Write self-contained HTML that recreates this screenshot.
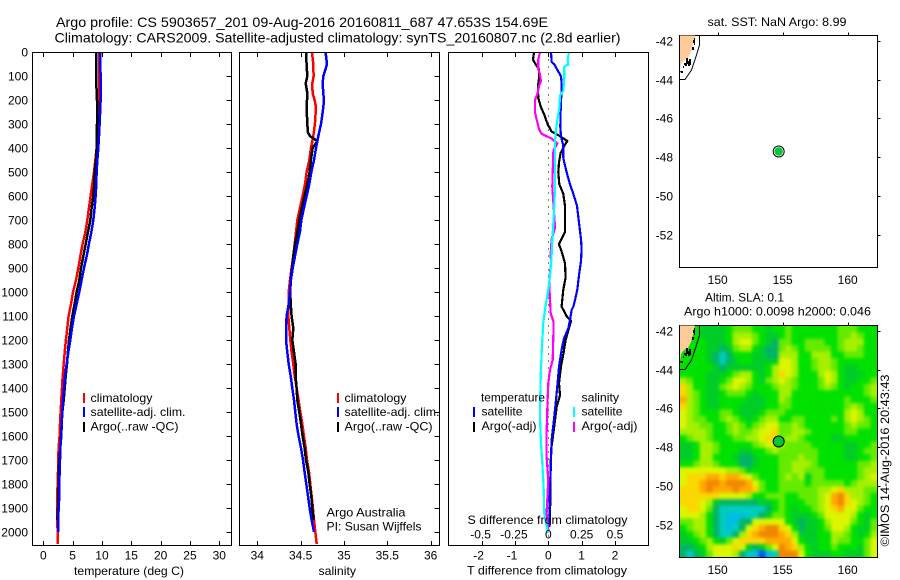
<!DOCTYPE html>
<html lang="en">
<head>
<meta charset="utf-8">
<title>Argo profile 5903657</title>
<style>
html,body{margin:0;padding:0;background:#fff;}
svg{display:block;}
text{font-family:"Liberation Sans",sans-serif;font-size:12px;fill:#000;}
.t14{font-size:14px;}
</style>
</head>
<body>
<svg id="chart" xmlns="http://www.w3.org/2000/svg" width="900" height="580" viewBox="0 0 900 580">
<defs>
<filter id="smoothCells" x="0" y="0" width="1" height="1" color-interpolation-filters="sRGB">
<feGaussianBlur stdDeviation="1.5"/>
<feComponentTransfer><feFuncA type="table" tableValues="1 1"/></feComponentTransfer>
</filter>
</defs>
<rect x="0" y="0" width="900" height="580" fill="#fff"/>
<text class="t14" x="56" y="27" textLength="492" lengthAdjust="spacingAndGlyphs">Argo profile: CS 5903657_201 09-Aug-2016 20160811_687 47.653S 154.69E</text>
<text class="t14" x="54.5" y="42.5" textLength="566" lengthAdjust="spacingAndGlyphs">Climatology: CARS2009. Satellite-adjusted climatology: synTS_20160807.nc (2.8d earlier)</text>

<g id="heat" filter="url(#smoothCells)"></g>
<g id="marks"></g>

<text x="74" y="575" textLength="110" lengthAdjust="spacingAndGlyphs">temperature (deg C)</text>
<text x="318.5" y="575" textLength="37.5" lengthAdjust="spacingAndGlyphs">salinity</text>
<text x="467" y="574.5" textLength="160" lengthAdjust="spacingAndGlyphs">T difference from climatology</text>
<text x="467.5" y="524" textLength="160" lengthAdjust="spacingAndGlyphs">S difference from climatology</text>

<rect x="83" y="393" width="2" height="10" fill="#ff0000"/>
<rect x="83" y="407" width="2" height="10" fill="#0000ff"/>
<rect x="83" y="422" width="2" height="10" fill="#000"/>
<text x="90.5" y="402" textLength="62" lengthAdjust="spacingAndGlyphs">climatology</text>
<text x="90.5" y="416" textLength="95" lengthAdjust="spacingAndGlyphs">satellite-adj. clim.</text>
<text x="90.5" y="430.5" textLength="88" lengthAdjust="spacingAndGlyphs">Argo(..raw -QC)</text>

<rect x="337" y="393" width="2" height="10" fill="#ff0000"/>
<rect x="337" y="407" width="2" height="10" fill="#0000ff"/>
<rect x="337" y="422" width="2" height="10" fill="#000"/>
<text x="344.5" y="402" textLength="62" lengthAdjust="spacingAndGlyphs">climatology</text>
<text x="344.5" y="416" textLength="95" lengthAdjust="spacingAndGlyphs">satellite-adj. clim.</text>
<text x="344.5" y="430.5" textLength="88" lengthAdjust="spacingAndGlyphs">Argo(..raw -QC)</text>

<text x="326.5" y="516.5" textLength="79" lengthAdjust="spacingAndGlyphs">Argo Australia</text>
<text x="326.5" y="530.5" textLength="95" lengthAdjust="spacingAndGlyphs">PI: Susan Wijffels</text>

<text x="481" y="401.5" textLength="64" lengthAdjust="spacingAndGlyphs">temperature</text>
<text x="581.5" y="401.5" textLength="37.5" lengthAdjust="spacingAndGlyphs">salinity</text>
<rect x="473" y="407" width="2" height="10" fill="#0000ff"/>
<rect x="473" y="422" width="2" height="10" fill="#000"/>
<rect x="573" y="407" width="2" height="10" fill="#00ffff"/>
<rect x="573" y="422" width="2" height="10" fill="#ff00ff"/>
<text x="481.5" y="415.5" textLength="41" lengthAdjust="spacingAndGlyphs">satellite</text>
<text x="481.5" y="430" textLength="55" lengthAdjust="spacingAndGlyphs">Argo(-adj)</text>
<text x="581.5" y="415.5" textLength="41" lengthAdjust="spacingAndGlyphs">satellite</text>
<text x="581.5" y="430" textLength="56" lengthAdjust="spacingAndGlyphs">Argo(-adj)</text>

<text x="707.5" y="26" textLength="139" lengthAdjust="spacingAndGlyphs">sat. SST: NaN Argo: 8.99</text>
<text x="705" y="301.5" textLength="79" lengthAdjust="spacingAndGlyphs">Altim. SLA: 0.1</text>
<text x="684" y="315.5" textLength="187" lengthAdjust="spacingAndGlyphs">Argo h1000: 0.0098 h2000: 0.046</text>
<text x="889" y="546.5" transform="rotate(-90 889 546.5)" textLength="172" lengthAdjust="spacingAndGlyphs">©IMOS 14-Aug-2016 20:43:43</text>
</svg>

<script>
// ---- depth ticks and axis ticks ----
const depthTicks = [0,100,200,300,400,500,600,700,800,900,1000,1100,1200,1300,1400,1500,1600,1700,1800,1900,2000];
const tempTicks = [0,5,10,15,20,25,30];
const salTicks = [34,34.5,35,35.5,36];
const salTickLabels = ['34','34.5','35','35.5','36'];
const tDiffTicks = [-2,-1,0,1,2];
const tDiffTickLabels = ['-2','-1','0','1','2'];
const sDiffTicks = [-0.5,-0.25,0,0.25,0.5];
const sDiffTickLabels = ['-0.5','-0.25','0','0.25','0.5'];
const lonTicks = [150,155,160];
const latTicks = [-42,-44,-46,-48,-50,-52];

// ---- temperature panel ----
const tempDepths = [0,100,200,300,350,400,450,500,550,600,650,700,750,800,850,900,950,1000,1050,1100,1150,1200,1250,1300,1350,1400,1450,1500,1550,1600,1650,1700,1750,1800,1850,1900,1950,2000,2050];
const tempClim = [9.49,9.55,9.49,9.38,9.26,9.09,8.86,8.64,8.35,8.07,7.78,7.5,7.16,6.7,6.31,5.97,5.57,5.06,4.72,4.32,4.09,3.86,3.64,3.47,3.3,3.18,3.07,2.95,2.84,2.78,2.61,2.56,2.5,2.44,2.39,2.39,2.39,2.44,2.44];
const tempSat = [9.66,9.77,9.77,9.6,9.49,9.38,9.2,9.09,9.03,8.92,8.75,8.52,8.18,7.78,7.39,6.93,6.53,6.14,5.68,5.23,4.89,4.6,4.26,3.98,3.69,3.52,3.35,3.24,3.13,3.07,2.9,2.84,2.78,2.73,2.73,2.61,2.56,2.56];
const tempArgo = [8.98,8.98,9.15,9.15,9.09,9.09,8.98,8.75,8.69,8.52,8.24,8.01,7.61,7.22,6.82,6.42,6.14,5.68,5.34,4.94,4.66,4.38,4.2,4.04,3.81,3.64,3.47,3.24,3.13,3.01,2.9,2.73,2.61,2.61,2.55,2.5,2.39];

// ---- salinity panel ----
const salDepths = [0,50,100,130,170,200,230,300,350,400,450,500,550,600,650,700,750,800,850,900,950,1000,1050,1100,1150,1200,1250,1300,1350,1400,1450,1500,1550,1600,1650,1700,1750,1800,1850,1900,1950,2000,2050];
const salClim = [34.631,34.646,34.65,34.635,34.638,34.662,34.677,34.665,34.646,34.619,34.6,34.569,34.55,34.523,34.492,34.462,34.446,34.431,34.415,34.396,34.377,34.362,34.362,34.358,34.369,34.381,34.396,34.415,34.431,34.454,34.477,34.496,34.519,34.538,34.558,34.573,34.596,34.612,34.627,34.642,34.654,34.669,34.685];
const salSat = [34.788,34.804,34.762,34.754,34.762,34.769,34.762,34.735,34.704,34.677,34.654,34.623,34.6,34.569,34.538,34.508,34.492,34.462,34.435,34.408,34.388,34.377,34.362,34.338,34.331,34.331,34.346,34.362,34.385,34.404,34.423,34.438,34.454,34.477,34.504,34.527,34.546,34.565,34.585,34.604,34.627,34.654];
const salArgoDepths = [0,50,100,130,170,200,230,300,335,350,370,400,450,500,550,600,650,700,750,800,850,900,950,1000,1050,1100,1150,1200,1250,1300,1350,1400,1450,1500,1550,1600,1650,1700,1750,1800,1850,1900,1950];
const salArgo = [34.562,34.569,34.577,34.558,34.577,34.573,34.569,34.577,34.585,34.608,34.692,34.638,34.619,34.604,34.577,34.546,34.512,34.485,34.462,34.435,34.415,34.4,34.385,34.381,34.385,34.396,34.415,34.404,34.423,34.442,34.442,34.454,34.462,34.485,34.504,34.523,34.546,34.562,34.588,34.604,34.623,34.635,34.65];

// ---- difference panel ----
const tDiffArgoDepths = [0,30,50,70,100,130,160,190,230,260,300,330,350,370,390,420,460,500,550,590,640,750,800,840,880,940,990,1060,1100,1120,1160,1200,1260,1310,1380,1430,1480,1590,1660,1760,1870,1980];
const tDiffArgo = [-0.43,-0.46,-0.38,-0.28,-0.27,-0.3,-0.31,-0.3,-0.22,-0.12,-0.02,0.1,0.35,0.57,0.48,0.37,0.32,0.3,0.33,0.45,0.5,0.5,0.32,0.42,0.5,0.52,0.45,0.4,0.55,0.68,0.6,0.52,0.45,0.38,0.32,0.35,0.25,0.15,0.08,0.07,0.06,0.04];
const tDiffSatDepths = [0,40,50,80,100,130,170,200,250,310,350,390,440,460,500,550,590,640,710,780,820,870,920,990,1033,1061,1075,1116,1151,1193,1241,1311,1380,1450,1520,1617,1700,1811,1978];
const tDiffSat = [0.08,0.1,0.18,0.3,0.38,0.4,0.4,0.38,0.37,0.36,0.38,0.45,0.45,0.48,0.55,0.65,0.75,0.86,0.92,0.98,1.0,0.98,0.93,0.87,0.8,0.75,0.7,0.65,0.6,0.47,0.4,0.32,0.28,0.23,0.18,0.1,0.08,0.05,0.03];
const sDiffSatDepths = [0,30,50,60,100,160,180,230,280,340,370,440,500,570,640,710,780,850,920,990,1030,1075,1130,1200,1311,1422,1520,1630,1714,1811,1923,1978,2005];
const sDiffSat = [0.155,0.145,0.15,0.12,0.12,0.113,0.088,0.083,0.068,0.055,0.05,0.05,0.05,0.05,0.045,0.038,0.03,0.025,0.015,0,-0.013,-0.025,-0.038,-0.045,-0.055,-0.06,-0.063,-0.055,-0.045,-0.035,-0.03,-0.013,0];
const sDiffArgoDepths = [0,30,70,90,120,140,170,200,250,280,320,340,360,380,410,500,560,640,730,780,840,880,940,1000,1033,1089,1123,1172,1283,1325,1380,1450,1589,1686,1784,1923,1992];
const sDiffArgo = [-0.063,-0.075,-0.075,-0.063,-0.055,-0.07,-0.08,-0.1,-0.1,-0.088,-0.07,-0.05,0.025,0.068,0.038,0.033,0.03,0.04,0.05,0.025,0.018,0.02,0.008,0.01,0.013,0.018,0.038,0.038,0.033,0.013,0,-0.005,-0.013,-0.013,0,-0.013,0];

// ---- map values ----
const argoLon = [154.69];
const argoLat = [-47.653];
// sea level anomaly colour levels (0 = low, 11 = high), one row per latitude step from north to south
const slaRows = [
[5,5,5,4,4,4,4,5,6,6,6,5,5,4,5, 5,6,5,5,5,5,5,5,5,6,6,6,5,5,5],
[5,5,5,4,4,4,4,5,7,7,7,6,5,4,4, 5,6,5,5,5,5,5,5,5,6,6,7,6,5,5],
[5,5,5,5,4,4,4,5,7,8,8,6,5,4,3, 6,6,5,5,6,6,6,5,5,6,7,7,7,5,5],
[5,5,5,5,4,4,3,4,6,7,7,5,4,3,3, 6,7,6,5,6,6,6,6,5,6,7,7,6,5,5],
[5,5,5,5,4,3,2,3,5,5,5,4,4,3,3, 7,7,7,5,5,7,7,7,5,5,6,6,6,5,5],
[5,5,5,5,4,3,2,3,4,5,5,4,4,4,4, 8,8,7,5,5,6,7,7,6,5,5,5,5,5,5],
[5,5,5,5,5,4,3,4,4,4,4,4,4,5,7, 8,8,7,5,5,6,7,7,6,5,4,4,5,5,5],
[5,5,5,5,4,4,4,5,6,7,7,5,4,5,7, 9,8,7,5,5,5,7,8,7,5,4,4,4,5,5],
[7,6,5,5,4,4,5,6,8,8,7,5,4,6,7, 8,7,6,5,5,5,6,8,7,5,4,4,5,5,6],
[9,7,5,5,4,4,6,7,8,7,6,5,5,5,6, 7,7,6,5,5,5,6,7,6,5,4,5,5,6,7],
[9,7,6,5,4,4,5,6,6,6,5,4,5,5,5, 7,7,5,5,5,5,5,5,5,5,5,5,5,6,7],
[10,7,6,5,4,4,5,5,5,5,4,4,4,5,5, 7,6,5,5,5,5,5,5,5,5,6,5,5,5,6],
[9,7,6,5,4,4,5,5,5,4,4,4,4,5,5, 6,6,5,5,5,5,5,5,5,5,6,7,6,5,5],
[8,7,6,5,5,5,6,6,5,4,4,4,5,6,6, 6,5,5,5,5,5,5,5,5,5,7,8,7,5,5],
[8,7,6,6,5,5,6,7,6,5,4,5,6,7,7, 5,5,6,6,5,5,5,5,6,5,7,8,7,6,5],
[8,7,7,6,6,5,5,6,7,6,5,6,7,8,8, 6,6,7,6,5,5,5,5,5,5,6,7,6,6,5],
[7,7,7,7,6,5,5,6,7,6,6,7,8,8,9, 6,6,7,7,6,5,5,5,5,5,6,6,5,5,5],
[5,6,7,7,6,5,5,5,6,6,7,7,8,9,9, 6,7,7,6,5,5,5,5,4,4,5,5,5,5,5],
[4,4,5,7,7,6,5,5,5,5,5,6,7,8,8, 7,6,6,6,6,5,5,5,5,5,4,4,5,5,6],
[4,4,5,7,7,6,5,5,5,4,4,5,5,6,7, 6,6,6,6,6,6,5,5,5,5,4,4,5,6,6],
[4,4,5,7,7,5,5,5,4,3,3,4,5,5,5, 6,6,6,7,6,6,5,5,5,5,4,4,5,5,6],
[5,5,6,7,7,6,5,5,5,3,3,4,5,5,5, 6,6,7,7,7,6,5,5,5,5,5,5,6,6,7],
[8,8,8,8,8,8,8,7,7,6,4,5,5,5,5, 6,6,7,7,6,6,6,5,5,5,5,5,6,7,7],
[8,9,9,9,10,10,9,10,10,9,8,6,5,5,5, 6,7,6,7,4,6,6,5,5,5,5,5,6,7,8],
[8,9,9,10,11,11,10,11,11,11,10,8,6,5,5, 6,6,6,6,5,6,6,6,6,6,5,6,7,7,7],
[9,9,9,10,11,10,10,10,11,10,10,9,6,5,5, 6,6,6,6,6,6,7,7,8,9,7,7,7,6,6],
[9,9,9,9,9,9,8,8,8,8,7,5,5,6,6, 6,5,5,6,6,6,7,8,10,11,9,7,7,6,5],
[9,9,9,8,7,4,3,3,3,3,3,3,4,4,5, 6,5,5,5,6,6,7,8,10,11,9,8,7,6,5],
[8,9,9,8,6,3,2,2,2,2,2,2,2,3,5, 6,5,4,5,5,6,7,8,9,10,8,8,6,5,5],
[8,8,8,7,5,3,2,1,1,1,2,2,3,4,6, 6,5,4,4,4,5,6,8,8,8,8,7,5,4,5],
[6,6,7,7,5,3,2,1,1,3,3,8,8,8,8, 8,5,4,3,4,4,5,7,8,8,8,6,5,4,6],
[5,6,7,7,5,3,2,1,2,3,8,9,10,11,11, 9,8,5,3,4,4,5,6,8,8,7,5,4,4,6],
[4,5,6,7,5,3,2,2,3,7,9,10,11,11,11, 10,9,7,4,4,4,5,5,7,7,6,5,4,5,7],
[4,4,5,6,7,5,4,6,8,9,9,9,9,10,10, 10,10,8,5,4,4,5,5,7,6,6,5,5,6,8],
[3,3,4,5,7,8,8,8,9,8,4,3,4,6,8, 11,10,9,7,5,4,5,5,6,5,5,5,4,6,8],
[3,2,3,4,6,8,8,8,7,3,2,1,0,1,2, 11,11,11,8,5,4,4,4,5,5,4,4,4,6,8]
];

// ---- scales ----
function depthY(d){ return 52.3 + 0.2398 * d; }
function tempX(v){ return 43.3 + 5.867 * v; }
function salX(v){ return 257.3 + 86.67 * (v - 34); }
function tDiffX(v){ return 548.3 + 33.35 * v; }
function sDiffX(v){ return 548.3 + 133.4 * v; }
function lonX(v){ return 717.7 + 13 * (v - 150); }
function latY(v, top){ return top + 6 + 19.35 * (-42 - v); }
function levelColor(v){
  if (v <= 0) return 'rgb(0,80,255)';
  if (v === 1) return 'rgb(0,190,225)';
  if (v === 2) return 'rgb(0,205,190)';
  if (v === 3) return 'rgb(0,180,105)';
  if (v === 4) return 'rgb(0,205,40)';
  if (v === 5) return 'rgb(0,225,0)';
  if (v === 6) return 'rgb(100,235,0)';
  if (v === 7) return 'rgb(165,240,0)';
  if (v === 8) return 'rgb(220,245,0)';
  if (v === 9) return 'rgb(250,215,0)';
  if (v === 10) return 'rgb(255,170,0)';
  return 'rgb(240,135,0)';
}

const NS = 'http://www.w3.org/2000/svg';
const marks = document.getElementById('marks');
const heat = document.getElementById('heat');
function mk(tag, parent, attrs, txt){
  const el = document.createElementNS(NS, tag);
  for (const k in attrs) el.setAttribute(k, attrs[k]);
  if (txt !== undefined) el.textContent = txt;
  parent.appendChild(el);
  return el;
}
function num(v){ return Math.round(v) + 0.5; }

// heatmap cells
const heatLeft = 680, heatRight = 877, heatTop = 326, heatBottom = 557;
slaRows.forEach(function(row, r){
  const y0 = heatTop + (heatBottom - heatTop) * r / slaRows.length;
  const y1 = heatTop + (heatBottom - heatTop) * (r + 1) / slaRows.length;
  row.forEach(function(v, c){
    const x0 = heatLeft + (heatRight - heatLeft) * c / row.length;
    const x1 = heatLeft + (heatRight - heatLeft) * (c + 1) / row.length;
    const cell = mk('rect', heat, {x:x0.toFixed(2), y:y0.toFixed(2), width:(x1-x0).toFixed(2), height:(y1-y0).toFixed(2), fill:levelColor(v)});
    
    
  });
});

// series line
function drawSeries(depths, values, xFn, color, width, name){
  const pts = values.map(function(v, i){ return xFn(v).toFixed(1) + ',' + depthY(depths[i]).toFixed(1); }).join(' ');
  const line = mk('polyline', marks, {points:pts, fill:'none', stroke:color, 'stroke-width':width, 'stroke-linejoin':'round', 'shape-rendering':'crispEdges'});
  
  
}

// temperature
drawSeries(tempDepths, tempClim, tempX, '#ff0000', 2.5, 'temperature-climatology-line');
drawSeries(tempDepths, tempArgo, tempX, '#000000', 2.5, 'temperature-argo-line');
drawSeries(tempDepths, tempSat, tempX, '#0000ff', 2.5, 'temperature-satellite-line');

// salinity
drawSeries(salDepths, salClim, salX, '#ff0000', 2.5, 'salinity-climatology-line');
drawSeries(salArgoDepths, salArgo, salX, '#000000', 2.5, 'salinity-argo-line');
drawSeries(salDepths, salSat, salX, '#0000ff', 2.5, 'salinity-satellite-line');

// difference zero line
const zeroLine = mk('line', marks, {x1:tDiffX(0), x2:tDiffX(0), y1:depthY(0), y2:545, stroke:'#000', 'stroke-width':1, 'stroke-dasharray':'1 6', 'shape-rendering':'crispEdges'});



drawSeries(tDiffArgoDepths, tDiffArgo, tDiffX, '#000000', 2.2, 't-difference-argo-line');
drawSeries(tDiffSatDepths, tDiffSat, tDiffX, '#0000ff', 2.2, 't-difference-satellite-line');
drawSeries(sDiffArgoDepths, sDiffArgo, sDiffX, '#ff00ff', 2.2, 's-difference-argo-line');
drawSeries(sDiffSatDepths, sDiffSat, sDiffX, '#00ffff', 2.2, 's-difference-satellite-line');

// frames
function frame(x, y, w, h, name){
  const r = mk('rect', marks, {x:x, y:y, width:w, height:h, fill:'none', stroke:'#000', 'stroke-width':1, 'shape-rendering':'crispEdges'});
  
  
}
function tick(x1, y1, x2, y2, name){
  const t = mk('line', marks, {x1:x1, y1:y1, x2:x2, y2:y2, stroke:'#000', 'stroke-width':1, 'shape-rendering':'crispEdges'});
  
  
}
function label(x, y, anchor, s, name){
  const t = mk('text', marks, {x:x, y:y, 'text-anchor':anchor}, s);
  
  
}

frame(32.5, 52.5, 199, 493, 'temperature-plot-frame');
frame(239.5, 52.5, 200, 493, 'salinity-plot-frame');
frame(448.5, 52.5, 200, 493, 'difference-plot-frame');
frame(679.5, 35.5, 198, 232, 'sst-map-frame');
frame(679.5, 325.5, 198, 232, 'sla-map-frame');

// depth axis
depthTicks.forEach(function(d){
  const y = num(depthY(d));
  label(28, y + 4, 'end', String(d), 'depth-tick-label');
  tick(226.5, y, 231.5, y, 'temperature-depth-tick');
  tick(434.5, y, 439.5, y, 'salinity-depth-tick');
});

// x axes
tempTicks.forEach(function(v){
  const x = num(tempX(v));
  tick(x, 52.5, x, 57, 'temperature-top-tick');
  tick(x, 541, x, 545.5, 'temperature-bottom-tick');
  label(tempX(v), 559.5, 'middle', String(v), 'temperature-tick-label');
});
salTicks.forEach(function(v, i){
  const x = num(salX(v));
  tick(x, 52.5, x, 57, 'salinity-top-tick');
  tick(x, 541, x, 545.5, 'salinity-bottom-tick');
  label(salX(v), 559.5, 'middle', salTickLabels[i], 'salinity-tick-label');
});
tDiffTicks.forEach(function(v, i){
  const x = num(tDiffX(v));
  tick(x, 52.5, x, 57, 'difference-top-tick');
  tick(x, 541, x, 545.5, 'difference-bottom-tick');
  label(tDiffX(v) - (v < 0 ? 3 : 0), 559.5, 'middle', tDiffTickLabels[i], 't-difference-tick-label');
});
sDiffTicks.forEach(function(v, i){
  label(sDiffX(v) - (v < 0 ? 1 : 0), 538.5, 'middle', sDiffTickLabels[i], 's-difference-tick-label');
});

// maps
function drawMap(top, isHeat){
  const dy = top - 35;
  const land = mk('polygon', marks, {points:[[680,35.5],[695,35.5],[693.5,43],[691,52],[688,58],[684,60],[681,64],[680,71]].map(function(p){return p[0]+','+(p[1]+dy);}).join(' '), fill:'#ffcc99', stroke:'none'});
  
  
  const coast = mk('path', marks, {d:'M680 71h3v-5h1v-3h2v-5h2v3h1v-2h2v6h-1v1h-2v-2h-1v2h-2v-1h-1v3h-1v5h-2z M691 54h2v-4h-1v-3h2v-4h-1v-3h1v-2h1v7h-1v5h-1v4h-2z', fill:'#000', transform:'translate(0 ' + dy + ')', 'shape-rendering':'crispEdges'});
  
  
  const contour = mk('path', marks, {d:'M699.5 35.5V45L696.5 55L691.5 70L685 79.5H680', fill:'none', stroke:'#000', 'stroke-width':1, transform:'translate(0 ' + dy + ')'});
  
  

  lonTicks.forEach(function(v){
    const x = num(lonX(v));
    tick(x, top - 2.5, x, top + 0.5, 'map-top-tick');
    label(lonX(v), top + 249, 'middle', String(v), 'longitude-tick-label');
  });
  latTicks.forEach(function(v){
    const y = num(latY(v, top));
    tick(877.5, y, 880.5, y, 'map-right-tick');
    label(673, y + 4, 'end', String(v), 'latitude-tick-label');
  });
  const px = lonX(argoLon[0]);
  const py = top + 116.5;
  const ring = mk('circle', marks, {cx:px, cy:py, r:5.5, fill:isHeat ? '#00cc22' : '#fff', stroke:'#000', 'stroke-width':1});
  
  
  const dot = mk('circle', marks, {cx:px, cy:py, r:4.2, fill:'#00c832'});
  
  
}
drawMap(35, false);
drawMap(325, true);
</script>
</body>
</html>
